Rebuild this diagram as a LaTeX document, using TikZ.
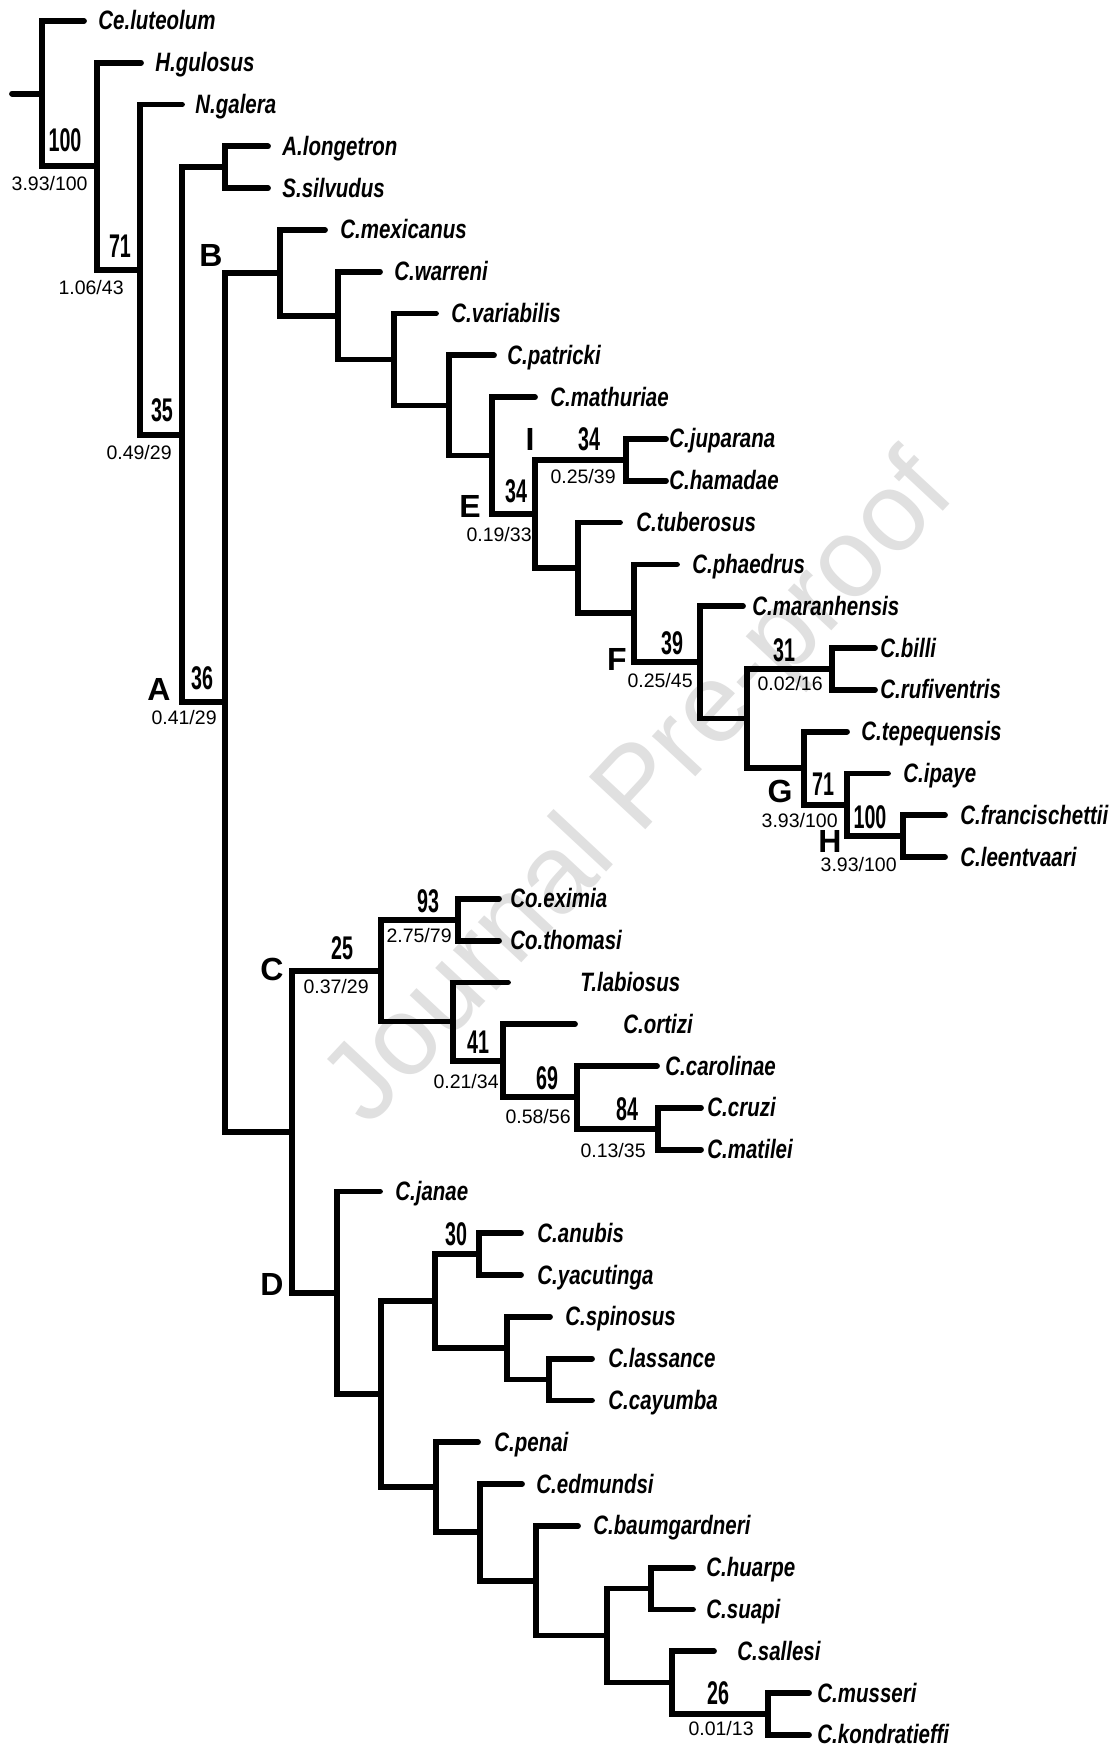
\documentclass[tikz,border=0pt]{standalone}
\usepackage{fontspec}
\setmainfont{Liberation Sans}
\newfontfamily\taxfont[FakeStretch=0.77]{Liberation Sans}
\newfontfamily\suppfont[FakeStretch=0.6]{Liberation Sans}
\usepackage{tikz}
\usetikzlibrary{calc}
\definecolor{wmark}{HTML}{E0E0E0}

\begin{document}
\begin{tikzpicture}[x=0.5pt,y=-0.5pt,
  branch/.style={line width=2.9pt, line cap=round, line join=miter},
  taxon/.style={anchor=base west, inner sep=0pt, yshift=-4.5pt,
    font=\taxfont\bfseries\itshape\fontsize{13.3}{14}\selectfont},
  supp/.style={anchor=base, inner sep=0pt,
    font=\suppfont\bfseries\fontsize{16.4}{17}\selectfont},
  post/.style={anchor=north east, inner sep=0pt, font=\fontsize{9.75}{10}\selectfont},
  cladelab/.style={anchor=base, inner sep=0pt, font=\bfseries\fontsize{16}{17}\selectfont},
  wm/.style={text=wmark, inner sep=0pt, font=\fontsize{56}{57}\selectfont}]
\fill[white] (0,0) rectangle (1116,1748);
\useasboundingbox (0,0) rectangle (1116,1748);
% helper: inner node #1 at x=#2, halfway between children #3 and #4
\newcommand{\clade}[4]{%
  \path let \p1=(#3), \p2=(#4) in coordinate (#1) at (#2,{(\y1+\y2)/2});
  \draw[branch] (#1) |- (#3);
  \draw[branch] (#1) |- (#4);
}
\node[wm, rotate=47] (wmk) at (642,792) {Journal Pre-proof};

% tips: index / tip x / label x / name
\foreach \i/\tx/\lx/\nm in {1/84/98/Ce.luteolum, 2/141/155/H.gulosus, 3/182/195/N.galera,
  4/268/282/A.longetron, 5/268/282/S.silvudus, 6/325/340/C.mexicanus, 7/380/394/C.warreni,
  8/436/451/C.variabilis, 9/494/507/C.patricki, 10/535/550/C.mathuriae,
  11/666/669/C.juparana, 12/666/669/C.hamadae, 13/620/636/C.tuberosus,
  14/677/692/C.phaedrus, 15/743/752/C.maranhensis, 16/875/880/C.billi,
  17/875/880/C.rufiventris, 18/847/861/C.tepequensis, 19/888/903/C.ipaye,
  20/945/960/C.francischettii, 21/945/960/C.leentvaari, 22/499/510/Co.eximia,
  23/499/510/Co.thomasi, 24/508/580/T.labiosus, 25/575/623/C.ortizi,
  26/657/665/C.carolinae, 27/701/707/C.cruzi, 28/701/707/C.matilei,
  29/380/395/C.janae, 30/521/537/C.anubis, 31/521/537/C.yacutinga,
  32/550/565/C.spinosus, 33/592/608/C.lassance, 34/592/608/C.cayumba,
  35/478/494/C.penai, 36/522/536/C.edmundsi, 37/578/593/C.baumgardneri,
  38/693/706/C.huarpe, 39/693/706/C.suapi, 40/714/737/C.sallesi,
  41/809/817/C.musseri, 42/809/817/C.kondratieffi}{
  \coordinate (t\i) at (\tx,{21+41.8*(\i-1)});
  \node[taxon] (l\i) at (\lx,{21+41.8*(\i-1)}) {\nm};
}

% clade B
\clade{as}{225}{t4}{t5}
\clade{jh}{626}{t11}{t12}
\clade{br}{832}{t16}{t17}
\clade{hh}{903}{t20}{t21}
\clade{ip}{847}{t19}{hh}
\clade{gg}{804}{t18}{ip}
\clade{zz}{747}{br}{gg}
\clade{mr}{700}{t15}{zz}
\clade{ph}{634}{t14}{mr}
\clade{tu}{578}{t13}{ph}
\clade{ee}{535}{jh}{tu}
\clade{ma}{492}{t10}{ee}
\clade{pa}{449}{t9}{ma}
\clade{va}{394}{t8}{pa}
\clade{wa}{338}{t7}{va}
\clade{bb}{280}{t6}{wa}
% clade C
\clade{co}{458}{t22}{t23}
\clade{cm}{658}{t27}{t28}
\clade{ca}{577}{t26}{cm}
\clade{ot}{503}{t25}{ca}
\clade{la}{453}{t24}{ot}
\clade{cc}{381}{co}{la}
% clade D
\clade{ay}{479}{t30}{t31}
\clade{lc}{549}{t33}{t34}
\clade{sp}{507}{t32}{lc}
\clade{xa}{435}{ay}{sp}
\clade{ms}{768}{t41}{t42}
\clade{sa}{672}{t40}{ms}
\clade{hs}{651}{t38}{t39}
\clade{hx}{607}{hs}{sa}
\clade{bm}{536}{t37}{hx}
\clade{ed}{480}{t36}{bm}
\clade{xb}{436}{t35}{ed}
\clade{xx}{381}{xa}{xb}
\clade{dd}{337}{t29}{xx}
% backbone
\clade{cd}{292}{cc}{dd}
\clade{aa}{225}{bb}{cd}
\clade{n4}{182}{as}{aa}
\clade{n3}{140}{t3}{n4}
\clade{n2}{97}{t2}{n3}
\clade{n1}{42}{t1}{n2}
\path let \p1=(n1) in coordinate (rt) at (12,\y1);
\draw[branch] (rt) -- (n1);

% bootstrap values
\node[supp] (s1) at (65,152) {100};
\node[supp] (s2) at (120,258) {71};
\node[supp] (s3) at (162,422) {35};
\node[supp] (s4) at (202,689) {36};
\node[supp] (s5) at (516,503) {34};
\node[supp] (s6) at (589,451) {34};
\node[supp] (s7) at (672,654) {39};
\node[supp] (s8) at (784,661) {31};
\node[supp] (s9) at (823,795) {71};
\node[supp] (s10) at (870,828) {100};
\node[supp] (s11) at (428,912) {93};
\node[supp] (s12) at (342,959) {25};
\node[supp] (s13) at (478,1053) {41};
\node[supp] (s14) at (547,1089) {69};
\node[supp] (s15) at (627,1120) {84};
\node[supp] (s16) at (456,1245) {30};
\node[supp] (s17) at (718,1704) {26};

% decay / jackknife values
\node[post] (p1) at (88,176) {3.93/100};
\node[post] (p2) at (124,280) {1.06/43};
\node[post] (p3) at (172,445) {0.49/29};
\node[post] (p4) at (217,710) {0.41/29};
\node[post] (p5) at (532,527) {0.19/33};
\node[post] (p6) at (616,469) {0.25/39};
\node[post] (p7) at (693,673) {0.25/45};
\node[post] (p8) at (823,676) {0.02/16};
\node[post] (p9) at (838,813) {3.93/100};
\node[post] (p10) at (897,857) {3.93/100};
\node[post] (p11) at (452,928) {2.75/79};
\node[post] (p12) at (369,979) {0.37/29};
\node[post] (p13) at (499,1074) {0.21/34};
\node[post] (p14) at (571,1109) {0.58/56};
\node[post] (p15) at (646,1143) {0.13/35};
\node[post] (p16) at (754,1721) {0.01/13};

% clade letters
\node[cladelab] (cA) at (159,700) {A};
\node[cladelab] (cB) at (211,267) {B};
\node[cladelab] (cC) at (272,980) {C};
\node[cladelab] (cD) at (272,1295) {D};
\node[cladelab] (cE) at (470,517) {E};
\node[cladelab] (cF) at (617,670) {F};
\node[cladelab] (cG) at (780,802) {G};
\node[cladelab] (cH) at (830,852) {H};
\node[cladelab] (cI) at (530,451) {I};
\end{tikzpicture}
\end{document}
